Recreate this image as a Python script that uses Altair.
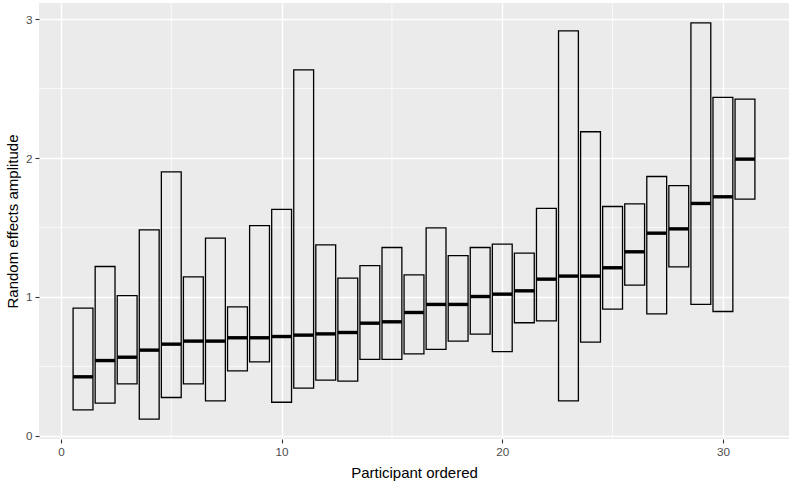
import altair as alt
import pandas as pd

# Participants ordered by their median random-effect amplitude
participant = list(range(1, 32))
median = [0.425, 0.542, 0.566, 0.617, 0.660, 0.682, 0.682, 0.706, 0.706, 0.715,
          0.725, 0.734, 0.744, 0.811, 0.821, 0.888, 0.946, 0.946, 1.003, 1.020,
          1.044, 1.128, 1.150, 1.150, 1.210, 1.325, 1.459, 1.490, 1.673, 1.721,
          1.992]
lower = [0.187, 0.235, 0.374, 0.120, 0.276, 0.374, 0.252, 0.468, 0.533, 0.242,
         0.343, 0.401, 0.394, 0.550, 0.550, 0.590, 0.622, 0.682, 0.732, 0.607,
         0.814, 0.828, 0.252, 0.674, 0.912, 1.085, 0.878, 1.217, 0.946, 0.895,
         1.704]
upper = [0.919, 1.219, 1.010, 1.483, 1.901, 1.145, 1.423, 0.929, 1.514, 1.630,
         2.635, 1.375, 1.135, 1.226, 1.356, 1.159, 1.497, 1.298, 1.356, 1.380,
         1.315, 1.637, 2.916, 2.189, 1.651, 1.670, 1.867, 1.802, 2.973, 2.436,
         2.424]

x_major = [0, 10, 20, 30]
x_minor = [5, 15, 25]
y_major = [0, 1, 2, 3]
y_minor = [0.5, 1.5, 2.5]

half_width = 0.45  # crossbar half width in participant units

df = pd.DataFrame({"participant": participant, "lower": lower,
                   "median": median, "upper": upper})

FONT = "Liberation Sans"

x_scale = alt.Scale(domain=[-0.995, 32.995], nice=False, zero=False)
y_scale = alt.Scale(domain=[-0.0227, 3.116], nice=False, zero=False)

x_axis = alt.Axis(title="Participant ordered", values=x_major, format="d",
                  grid=True, gridColor="white", gridWidth=1.4, domain=False,
                  tickColor="#333333", tickSize=4, tickWidth=1.1,
                  labelColor="#4D4D4D", labelFontSize=11.7, labelFont=FONT,
                  labelPadding=3, titleFont=FONT, titleFontSize=15,
                  titleFontWeight="normal", titleColor="black", titlePadding=8)
y_axis = alt.Axis(title="Random effects amplitude", values=y_major, format="d",
                  grid=True, gridColor="white", gridWidth=1.4, domain=False,
                  tickColor="#333333", tickSize=4, tickWidth=1.1,
                  labelColor="#4D4D4D", labelFontSize=11.7, labelFont=FONT,
                  labelPadding=3, titleFont=FONT, titleFontSize=15,
                  titleFontWeight="normal", titleColor="black", titlePadding=5)

base = alt.Chart(df).transform_calculate(
    x_lo=f"datum.participant - {half_width}",
    x_hi=f"datum.participant + {half_width}",
)

boxes = base.mark_rect(fill=None, stroke="black", strokeWidth=1.3).encode(
    x=alt.X("x_lo:Q", scale=x_scale, axis=x_axis),
    x2="x_hi:Q",
    y=alt.Y("lower:Q", scale=y_scale, axis=y_axis),
    y2="upper:Q",
)

medians = base.mark_rule(color="black", strokeWidth=3.4).encode(
    x=alt.X("x_lo:Q", scale=x_scale),
    x2="x_hi:Q",
    y=alt.Y("median:Q", scale=y_scale),
)

# minor grid lines
minor_x = alt.Chart(pd.DataFrame({"v": x_minor})).mark_rule(
    color="white", strokeWidth=0.7).encode(x=alt.X("v:Q", scale=x_scale))
minor_y = alt.Chart(pd.DataFrame({"v": y_minor})).mark_rule(
    color="white", strokeWidth=0.7).encode(y=alt.Y("v:Q", scale=y_scale))

chart = alt.layer(minor_x, minor_y, boxes, medians).properties(
    width=750, height=436,
    padding={"left": 39, "top": 3, "right": 0, "bottom": 46},
    autosize=alt.AutoSizeParams(type="none"),
    background="white",
).configure_view(fill="#EBEBEB", stroke=None)

chart.save("out.html", embed_options={"renderer": "svg", "actions": False})
